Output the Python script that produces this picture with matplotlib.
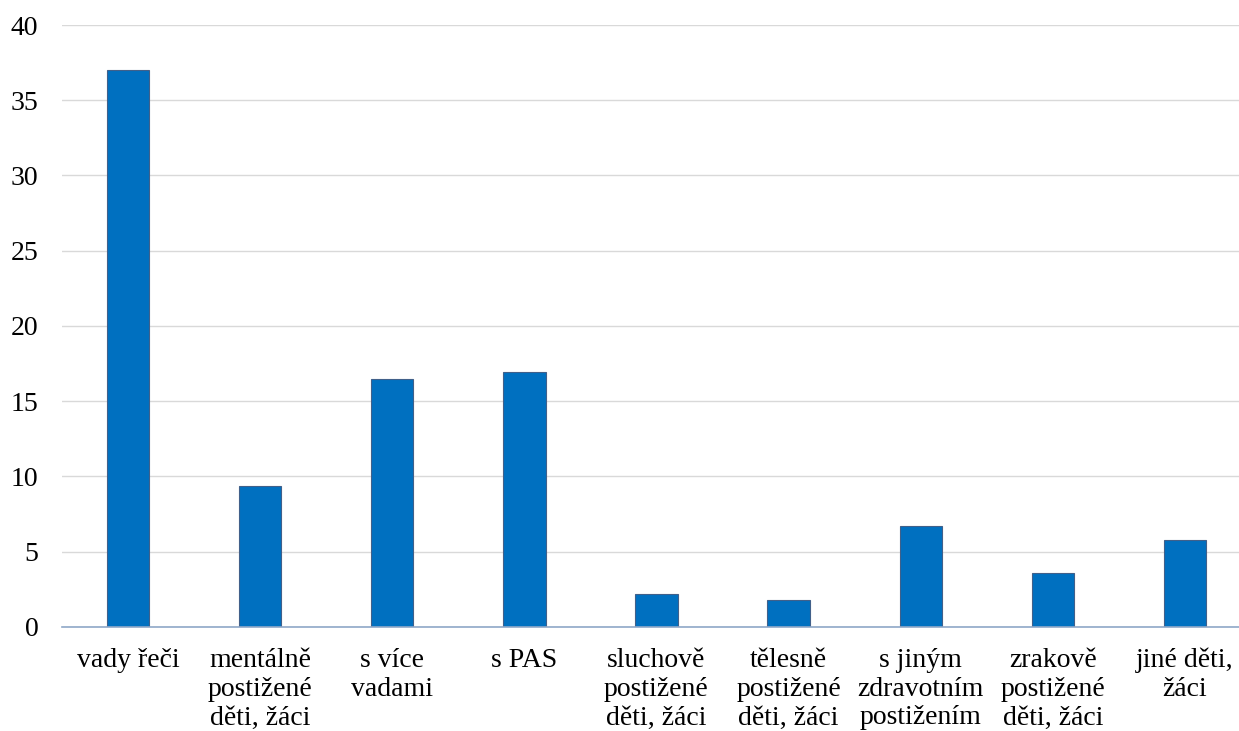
import matplotlib
matplotlib.use('Agg')
from matplotlib import pyplot as plt

categories = ['vady řeči', 'mentálně\npostižené\nděti, žáci', 's více\nvadami', 's PAS',
              'sluchově\npostižené\nděti, žáci', 'tělesně\npostižené\nděti, žáci',
              's jiným\nzdravotním\npostižením', 'zrakově\npostižené\nděti, žáci',
              'jiné děti,\nžáci']
values = [37.0, 9.4, 16.5, 16.95, 2.2, 1.8, 6.7, 3.6, 5.8]
yticks = [0, 5, 10, 15, 20, 25, 30, 35, 40]

plt.rcParams['font.family'] = ['Liberation Serif', 'DejaVu Serif']

fig = plt.figure(figsize=(12.39, 7.31), dpi=100)
ax = fig.add_axes([0.05, 0.1423, 0.9597, 0.8235])

x = list(range(len(categories)))
ax.bar(x, values, width=0.32, color='#0070C0', edgecolor='#41608A', linewidth=0.8, zorder=3)

ax.set_xlim(-0.5, len(categories) - 0.5)
ax.set_ylim(0, 40)
ax.set_yticks(yticks)
ax.set_xticks(x)
ax.set_xticklabels(categories, fontsize=20, linespacing=1.2)
ax.tick_params(axis='y', labelsize=20, length=0, pad=17)
ax.tick_params(axis='x', length=0, pad=15)
ax.grid(axis='y', color='#D9D9D9', linewidth=1, zorder=0)

for s in ['top', 'right', 'left']:
    ax.spines[s].set_visible(False)
ax.spines['bottom'].set_color('#8FA8C8')
ax.spines['bottom'].set_linewidth(1.2)
ax.spines['bottom'].set_zorder(4)

fig.savefig('out.png', dpi=100)
